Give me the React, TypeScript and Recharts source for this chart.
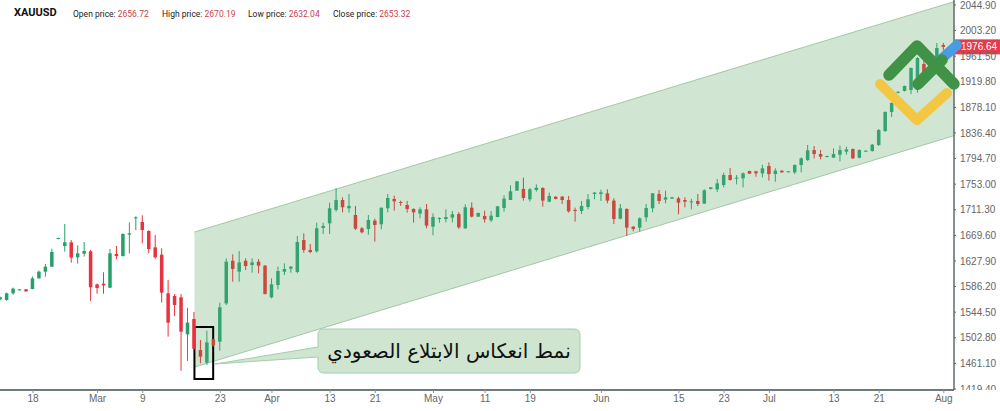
import { ComposedChart, Bar, Area, XAxis, YAxis, ReferenceArea, ReferenceLine } from 'recharts';

const opens = [
  1565.4, 1564.3, 1575.2, 1580.6, 1581.7, 1582.2, 1599.6, 1610.5, 1618.6, 1663.7,
  1652.3, 1658.2, 1633.8, 1639.8, 1643.6, 1589.8, 1590.9, 1584.4, 1639.2, 1636.0,
  1670.7, 1697.3, 1691.4, 1676.7, 1650.1, 1638.2, 1575.2, 1570.8, 1568.7, 1508.4,
  1533.4, 1482.9, 1462.2, 1500.2, 1496.4, 1558.8, 1628.3, 1610.4, 1628.3, 1621.3,
  1626.7, 1620.2, 1568.6, 1588.7, 1610.4, 1615.3, 1609.9, 1662.0, 1645.8, 1643.6,
  1681.6, 1689.2, 1711.0, 1727.2, 1713.7, 1702.8, 1681.1, 1680.0, 1693.6, 1687.6,
  1713.7, 1728.9, 1724.0, 1719.1, 1712.6, 1705.0, 1712.0, 1683.8, 1696.3, 1696.3,
  1698.5, 1704.4, 1681.1, 1714.7, 1700.1, 1701.2, 1694.1, 1699.5, 1714.2, 1727.2,
  1742.4, 1745.2, 1728.3, 1743.5, 1746.8, 1724.5, 1732.7, 1732.7, 1727.2, 1711.0,
  1709.3, 1715.8, 1737.0, 1737.0, 1738.1, 1726.2, 1696.8, 1712.6, 1683.8, 1682.2,
  1699.0, 1713.7, 1737.0, 1727.8, 1729.4, 1730.0, 1727.2, 1724.0, 1725.6, 1721.3,
  1745.1, 1744.5, 1751.6, 1767.9, 1761.9, 1762.5, 1774.4, 1773.9, 1770.6, 1782.6,
  1769.5, 1775.0, 1772.8, 1772.2, 1784.2, 1792.3, 1808.6, 1802.1, 1797.2, 1796.1,
  1801.0, 1805.9, 1810.2, 1796.1, 1806.4, 1807.0, 1816.8, 1839.6, 1870.6, 1902.0,
  1904.8, 1906.4, 1906.4, 1948.7, 1942.2, 1947.1, 1979.7,
];
const highs = [
  1569.7, 1576.3, 1584.4, 1582.2, 1582.2, 1602.3, 1612.1, 1623.0, 1647.9, 1665.8,
  1688.1, 1662.0, 1653.4, 1658.8, 1645.8, 1590.9, 1609.4, 1647.4, 1652.3, 1672.9,
  1690.8, 1700.6, 1702.2, 1677.8, 1670.2, 1648.5, 1596.9, 1574.1, 1574.1, 1551.8,
  1544.8, 1499.2, 1514.4, 1501.3, 1560.0, 1632.1, 1638.6, 1644.1, 1632.1, 1632.1,
  1631.0, 1621.3, 1599.6, 1618.6, 1624.0, 1619.6, 1668.6, 1672.9, 1655.6, 1690.3,
  1690.3, 1722.9, 1746.2, 1731.6, 1737.0, 1717.5, 1683.2, 1702.8, 1696.8, 1714.7,
  1737.0, 1734.3, 1726.1, 1725.6, 1713.7, 1715.3, 1720.7, 1705.5, 1699.0, 1712.0,
  1709.3, 1707.7, 1720.2, 1723.4, 1706.6, 1709.9, 1709.3, 1716.9, 1734.8, 1751.1,
  1758.2, 1763.6, 1746.8, 1752.8, 1747.9, 1739.2, 1733.2, 1733.8, 1733.8, 1714.7,
  1725.6, 1737.0, 1740.3, 1744.1, 1744.6, 1730.0, 1720.7, 1713.7, 1684.3, 1699.0,
  1720.7, 1738.6, 1743.5, 1742.4, 1732.2, 1732.7, 1731.6, 1728.9, 1737.0, 1744.6,
  1748.3, 1761.4, 1771.7, 1779.3, 1767.9, 1772.2, 1775.0, 1775.0, 1784.7, 1788.5,
  1778.8, 1775.5, 1774.4, 1785.3, 1796.7, 1816.8, 1815.1, 1808.6, 1799.4, 1811.3,
  1815.7, 1814.0, 1811.3, 1809.7, 1808.1, 1818.4, 1842.8, 1871.5, 1886.0, 1904.5,
  1913.5, 1943.0, 1960.0, 1955.0, 1960.0, 1983.0, 1983.0,
];
const lows = [
  1563.8, 1563.2, 1573.0, 1580.0, 1577.9, 1581.7, 1599.1, 1602.3, 1618.1, 1663.2,
  1643.0, 1625.1, 1623.5, 1634.9, 1562.7, 1574.6, 1574.6, 1583.9, 1630.6, 1634.9,
  1640.3, 1678.3, 1656.6, 1640.3, 1631.6, 1560.0, 1504.6, 1538.2, 1449.2, 1464.9,
  1482.9, 1461.1, 1458.4, 1488.3, 1481.8, 1556.1, 1594.1, 1594.1, 1613.1, 1608.8,
  1607.7, 1573.5, 1567.0, 1581.6, 1605.0, 1608.8, 1607.8, 1641.4, 1640.4, 1641.4,
  1671.8, 1671.8, 1708.2, 1707.1, 1706.6, 1678.4, 1673.0, 1670.8, 1659.4, 1679.4,
  1707.1, 1709.9, 1717.5, 1706.6, 1690.3, 1697.4, 1681.1, 1669.7, 1690.3, 1690.8,
  1690.8, 1680.0, 1680.0, 1699.0, 1699.5, 1690.3, 1691.4, 1699.0, 1708.2, 1727.2,
  1742.4, 1726.2, 1724.5, 1740.8, 1716.4, 1723.4, 1728.3, 1720.7, 1706.6, 1692.0,
  1704.4, 1712.0, 1728.3, 1725.6, 1721.8, 1688.1, 1695.7, 1668.6, 1676.2, 1675.7,
  1691.9, 1707.1, 1720.7, 1721.8, 1729.0, 1703.9, 1715.3, 1712.0, 1717.5, 1720.7,
  1744.6, 1740.2, 1747.8, 1758.7, 1752.7, 1747.8, 1769.5, 1765.2, 1764.1, 1758.7,
  1757.0, 1771.7, 1772.2, 1769.5, 1772.2, 1790.7, 1795.0, 1793.4, 1796.7, 1796.1,
  1790.2, 1801.0, 1794.0, 1795.0, 1806.0, 1805.9, 1815.2, 1838.0, 1862.4, 1901.0,
  1904.0, 1899.9, 1902.0, 1925.0, 1935.0, 1945.0, 1971.0,
];
const closes = [
  1568.7, 1575.2, 1582.8, 1581.7, 1578.4, 1599.6, 1610.5, 1618.6, 1642.5, 1665.3,
  1658.2, 1633.3, 1640.3, 1644.1, 1584.9, 1583.9, 1588.2, 1640.3, 1636.0, 1671.8,
  1672.9, 1699.0, 1678.3, 1647.4, 1633.8, 1576.3, 1527.4, 1556.2, 1512.7, 1527.4,
  1485.0, 1472.0, 1495.3, 1490.5, 1552.4, 1626.7, 1614.8, 1625.6, 1619.6, 1625.6,
  1620.2, 1574.0, 1589.8, 1611.5, 1614.8, 1618.6, 1658.8, 1645.8, 1642.5, 1681.1,
  1684.9, 1713.7, 1727.2, 1715.3, 1717.5, 1680.5, 1674.6, 1694.7, 1686.5, 1714.7,
  1730.5, 1725.0, 1722.9, 1712.6, 1707.1, 1712.0, 1685.4, 1699.5, 1697.9, 1699.5,
  1703.9, 1682.7, 1715.3, 1700.1, 1706.1, 1695.7, 1701.7, 1716.9, 1729.4, 1741.4,
  1757.6, 1730.5, 1744.6, 1747.3, 1726.2, 1733.8, 1728.9, 1727.2, 1708.8, 1709.3,
  1717.5, 1728.3, 1739.2, 1739.7, 1726.2, 1696.3, 1713.7, 1682.2, 1680.0, 1697.4,
  1714.2, 1738.1, 1725.6, 1731.6, 1731.6, 1722.9, 1724.5, 1725.0, 1720.7, 1743.0,
  1747.8, 1754.3, 1767.9, 1759.8, 1763.6, 1770.6, 1770.0, 1770.6, 1778.8, 1769.5,
  1775.0, 1772.2, 1773.9, 1784.2, 1795.0, 1808.1, 1802.1, 1797.8, 1798.8, 1802.1,
  1808.6, 1809.7, 1795.0, 1808.6, 1807.5, 1817.3, 1841.2, 1870.6, 1885.2, 1903.5,
  1913.0, 1942.2, 1958.5, 1932.5, 1955.3, 1974.8, 1976.64,
];

const priceTicks = [
  2044.9, 2003.2, 1961.5, 1919.8, 1878.1, 1836.4, 1794.7, 1753.0,
  1711.3, 1669.6, 1627.9, 1586.2, 1544.5, 1502.8, 1461.1, 1419.4,
];
const dateTicks = [5, 15, 22, 34, 42, 51, 58, 67, 75, 82, 93, 105, 112, 119, 129, 136, 146];
const dateLabels = ['18', 'Mar', '9', '23', 'Apr', '13', '21', 'May', '11', '19', 'Jun', '15', '23', 'Jul', '13', '21', 'Aug'];

const channelIndex = [30, 148];
const channelUpper = [1675, 2051.6];
const channelLower = [1455, 1833.4];
const lastPrice = 1976.64;

const candles = opens.map((open, i) => ({
  i,
  open,
  close: closes[i],
  range: [lows[i], highs[i]],
  channel: undefined as number[] | undefined,
}));
const rows = [...candles];
rows[channelIndex[0]] = { ...rows[channelIndex[0]], channel: [channelLower[0], channelUpper[0]] };
rows.push({ i: channelIndex[1], channel: [channelLower[1], channelUpper[1]] } as any);

// candles inside the channel look muted in the picture, the green band sits over them
const GREEN = '#25a06a';
const RED = '#e7323f';
const GREEN_MUTED = '#33a46f';
const RED_MUTED = '#c9493f';

function Candle(props: any) {
  const { x, y, width, height, payload } = props;
  if (!payload || !payload.range) return null;
  const [low, high] = payload.range;
  const perUnit = height / (high - low);
  const top = y + (high - Math.max(payload.open, payload.close)) * perUnit;
  const bottom = y + (high - Math.min(payload.open, payload.close)) * perUnit;
  const inChannel = payload.i > channelIndex[0];
  const up = payload.close >= payload.open;
  const color = inChannel ? (up ? GREEN_MUTED : RED_MUTED) : up ? GREEN : RED;
  const mid = x + width / 2;
  return (
    <g>
      <line x1={mid} x2={mid} y1={y} y2={y + height} stroke={color} strokeWidth={1} />
      <rect x={x} y={top} width={width} height={Math.max(bottom - top, 1)} fill={color} />
    </g>
  );
}

function PriceTag(props: any) {
  const { viewBox } = props;
  const left = viewBox.x + viewBox.width + 1;
  return (
    <g>
      <rect x={left} y={viewBox.y - 7.5} width={46} height={15} fill="#e63a4a" />
      <text x={left + 6} y={viewBox.y + 3.6} fontSize={10} fill="#fff" fontFamily="Liberation Sans">
        {lastPrice.toFixed(2)}
      </text>
    </g>
  );
}

const headerStyle = { position: 'absolute', top: 8, fontFamily: 'Roboto', fontSize: 8.5, lineHeight: '12px', color: '#222', whiteSpace: 'nowrap' } as const;
const headerValue = { color: '#c9404c' };

export default function App() {
  return (
    <div style={{ position: 'absolute', left: 0, top: 0, width: 1000, height: 411, overflow: 'hidden', background: '#fff' }}>
      <ComposedChart width={1000} height={411} data={rows} margin={{ top: 0, right: 0, bottom: 0, left: 0 }}>
        <XAxis
          dataKey="i"
          type="number"
          domain={[-0.1, 147.58]}
          allowDataOverflow
          ticks={dateTicks}
          interval={0}
          height={21}
          tickSize={3}
          tickMargin={2}
          tickFormatter={(v: number) => dateLabels[dateTicks.indexOf(v)]}
          axisLine={{ stroke: '#6d7b7c', strokeWidth: 2 }}
          tickLine={{ stroke: '#8a9495' }}
          tick={{ fill: '#666', fontSize: 10, fontFamily: 'Liberation Sans' }}
        />
        <YAxis
          orientation="right"
          type="number"
          domain={[1417.7, 2053]}
          allowDataOverflow
          ticks={priceTicks}
          interval={0}
          width={46}
          tickSize={2}
          tickMargin={4}
          tickFormatter={(v: number) => v.toFixed(2)}
          axisLine={{ stroke: '#5d6a70', strokeWidth: 1.5 }}
          tickLine={{ stroke: '#5d6a70' }}
          tick={{ fill: '#666', fontSize: 10, fontFamily: 'Liberation Sans', textAnchor: 'start' }}
        />
        <Bar dataKey="range" barSize={3.5} shape={Candle} isAnimationActive={false} />
        <Area
          dataKey="channel"
          type="linear"
          connectNulls
          fill="#4c9f50"
          fillOpacity={0.26}
          stroke="#a4c6a6"
          strokeWidth={1}
          dot={false}
          activeDot={false}
          isAnimationActive={false}
        />
        <ReferenceArea x1={30} x2={32.9} y1={1435.7} y2={1520.4} fill="none" stroke="#000" strokeWidth={2} />
        <ReferenceLine y={lastPrice} stroke="none" label={PriceTag} />
      </ComposedChart>

      <div style={{ position: 'absolute', left: 955, top: 390, width: 45, height: 21, background: '#fff' }} />

      <svg width={1000} height={411} style={{ position: 'absolute', left: 0, top: 0, pointerEvents: 'none' }}>
        <path
          d="M324 329 H574 Q580 329 580 335 V367 Q580 373 574 373 H324 Q318 373 318 367 V357 L215 364 L318 347 V335 Q318 329 324 329 Z"
          fill="#cfe5cf"
          stroke="#a3cdb0"
          strokeWidth={1}
        />
        <text x={449} y={358} textAnchor="middle" direction="rtl" fontFamily="DejaVu Sans" fontSize={20} fill="#111">
          نمط انعكاس الابتلاع الصعودي
        </text>
        <g fill="none" strokeLinecap="round" strokeLinejoin="round">
          <path d="M880 84 L917 120 L947 93" stroke="#f3c744" strokeWidth={10} />
          <path d="M938 62 L957 45" stroke="#4a9be0" strokeWidth={10} />
          <path d="M889 75 L917 46 L954 84" stroke="#3f9246" strokeWidth={11.5} />
          <path d="M918 84 L942 60" stroke="#3f9246" strokeWidth={11.5} />
        </g>
      </svg>

      <div style={{ ...headerStyle, left: 14, top: 7, fontSize: 11, fontWeight: 700, color: '#111' }}>XAUUSD</div>
      <div style={{ ...headerStyle, left: 73 }}>Open price: <span style={headerValue}>2656.72</span></div>
      <div style={{ ...headerStyle, left: 162 }}>High price: <span style={headerValue}>2670.19</span></div>
      <div style={{ ...headerStyle, left: 248 }}>Low price: <span style={headerValue}>2632.04</span></div>
      <div style={{ ...headerStyle, left: 333 }}>Close price: <span style={headerValue}>2653.32</span></div>
    </div>
  );
}
